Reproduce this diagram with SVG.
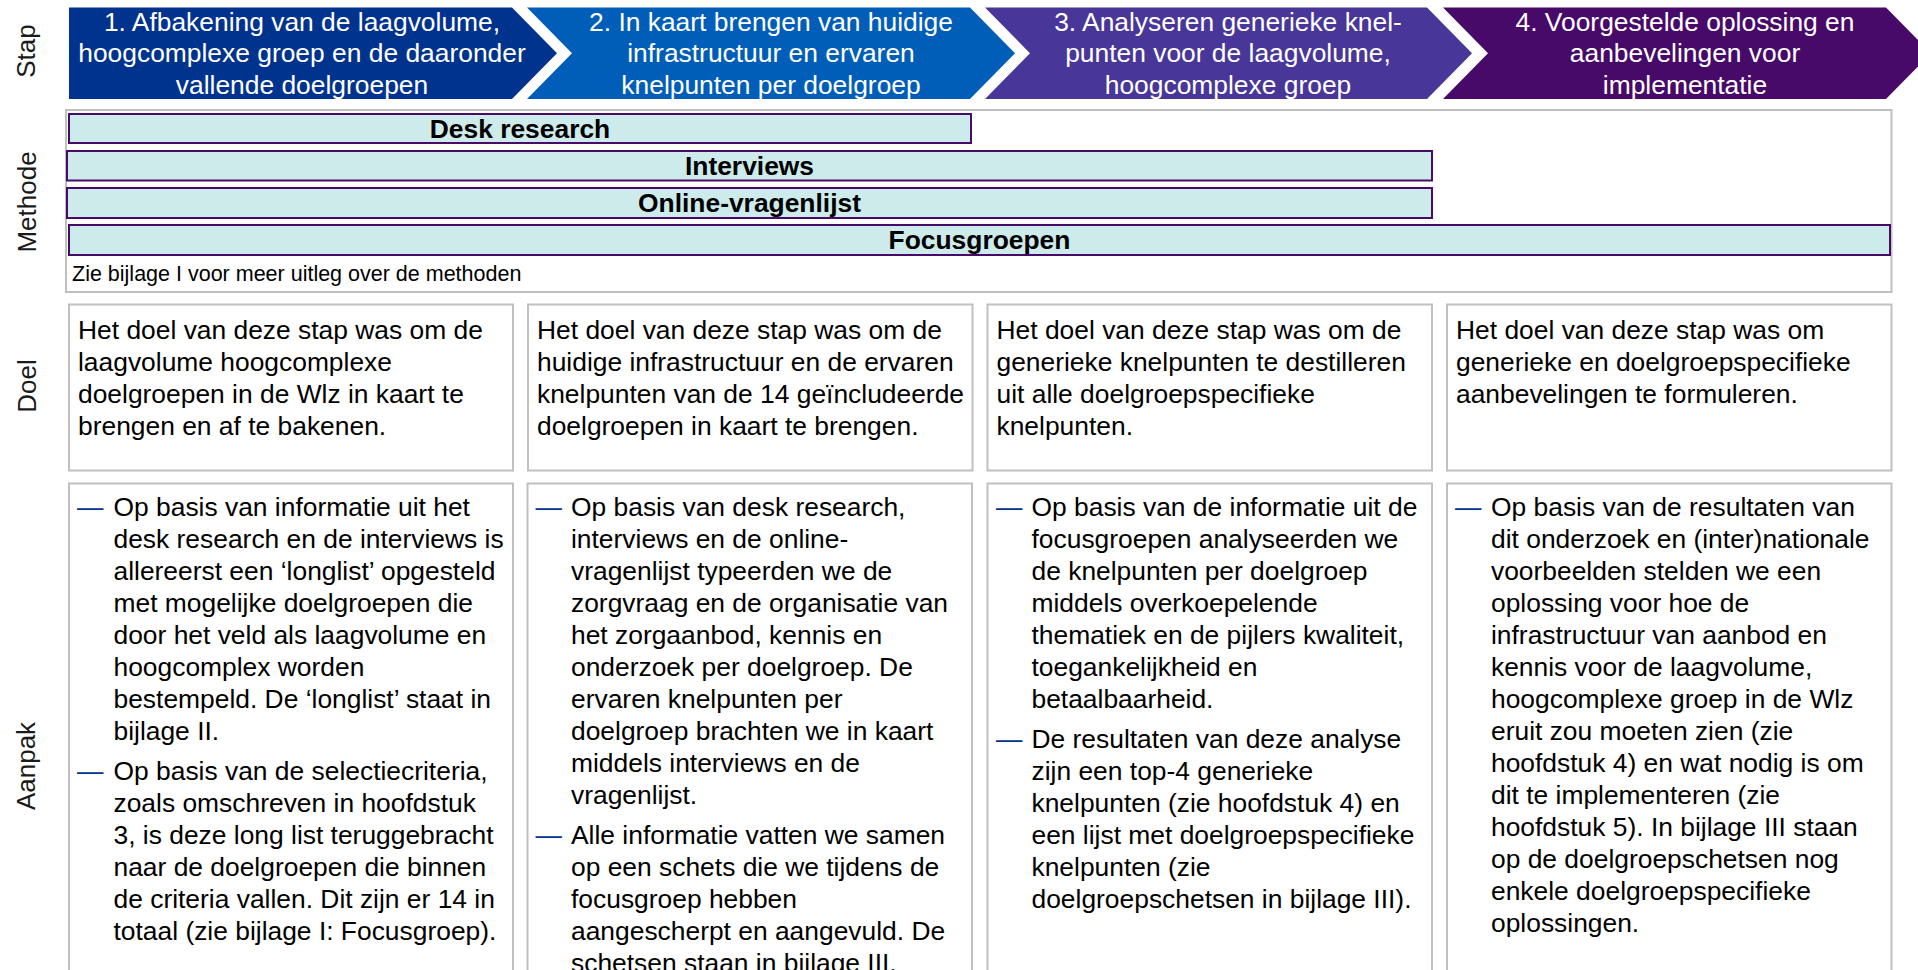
<svg xmlns="http://www.w3.org/2000/svg" width="1918" height="970" viewBox="0 0 1918 970">
<style>
text{font-family:"Liberation Sans",Arial,sans-serif}
.side{font-size:26px;fill:#1a1a1a;text-anchor:middle}
.ct{font-size:26.4px;fill:#ffffff;text-anchor:middle}
.bar{fill:#cdebeb;stroke:#470a68;stroke-width:2}
.bt{font-size:26.4px;font-weight:bold;fill:#000;text-anchor:middle}
.box{fill:#ffffff;stroke:#c0c0c0;stroke-width:2}
.tx{font-size:26.4px;fill:#000}
.dash{font-size:26.4px;fill:#00338d}
.note{font-size:21.5px;fill:#000}
</style>
<rect width="1918" height="970" fill="#ffffff"/>

<g id="row-labels">
<text class="side" transform="translate(35,51) rotate(-90)">Stap</text>
<text class="side" transform="translate(36,202) rotate(-90)">Methode</text>
<text class="side" transform="translate(36,386) rotate(-90)">Doel</text>
<text class="side" transform="translate(35,766) rotate(-90)">Aanpak</text>
</g>

<g id="stap-1">
<polygon points="69,7.5 512,7.5 557,53.25 512,99 69,99" fill="#00338d"/>
<text class="ct" x="302" y="30.5">1. Afbakening van de laagvolume,</text>
<text class="ct" x="302" y="62">hoogcomplexe groep en de daaronder</text>
<text class="ct" x="302" y="93.5">vallende doelgroepen</text>
</g>
<g id="stap-2">
<polygon points="527,7.5 970,7.5 1015,53.25 970,99 527,99 572,53.25" fill="#005eb8"/>
<text class="ct" x="771" y="30.5">2. In kaart brengen van huidige</text>
<text class="ct" x="771" y="62">infrastructuur en ervaren</text>
<text class="ct" x="771" y="93.5">knelpunten per doelgroep</text>
</g>
<g id="stap-3">
<polygon points="985,7.5 1427,7.5 1472,53.25 1427,99 985,99 1030,53.25" fill="#483698"/>
<text class="ct" x="1228" y="30.5">3. Analyseren generieke knel-</text>
<text class="ct" x="1228" y="62">punten voor de laagvolume,</text>
<text class="ct" x="1228" y="93.5">hoogcomplexe groep</text>
</g>
<g id="stap-4">
<polygon points="1443,7.5 1886,7.5 1931,53.25 1886,99 1443,99 1488,53.25" fill="#470a68"/>
<text class="ct" x="1685" y="30.5">4. Voorgestelde oplossing en</text>
<text class="ct" x="1685" y="62">aanbevelingen voor</text>
<text class="ct" x="1685" y="93.5">implementatie</text>
</g>

<g id="methode">
<rect x="66" y="110" width="1825.5" height="182" fill="#ffffff" stroke="#c0c0c0" stroke-width="2"/>
<g id="m-desk"><rect class="bar" x="69" y="114" width="902" height="29"/><text class="bt" x="520" y="137.5">Desk research</text></g>
<g id="m-interviews"><rect class="bar" x="67" y="151" width="1365" height="29.5"/><text class="bt" x="749.5" y="174.5">Interviews</text></g>
<g id="m-online"><rect class="bar" x="67" y="188" width="1365" height="30"/><text class="bt" x="749.5" y="211.5">Online-vragenlijst</text></g>
<g id="m-focus"><rect class="bar" x="69" y="225" width="1821" height="30"/><text class="bt" x="979.5" y="248.5">Focusgroepen</text></g>
<text class="note" x="72" y="281">Zie bijlage I voor meer uitleg over de methoden</text>
</g>

<g id="doel-1">
<rect class="box" x="69" y="304.5" width="444" height="166"/>
<text class="tx" x="78" y="338.5">Het doel van deze stap was om de</text>
<text class="tx" x="78" y="370.5">laagvolume hoogcomplexe</text>
<text class="tx" x="78" y="402.5">doelgroepen in de Wlz in kaart te</text>
<text class="tx" x="78" y="434.5">brengen en af te bakenen.</text>
</g>
<g id="doel-2">
<rect class="box" x="528" y="304.5" width="444.5" height="166"/>
<text class="tx" x="537" y="338.5">Het doel van deze stap was om de</text>
<text class="tx" x="537" y="370.5">huidige infrastructuur en de ervaren</text>
<text class="tx" x="537" y="402.5">knelpunten van de 14 geïncludeerde</text>
<text class="tx" x="537" y="434.5">doelgroepen in kaart te brengen.</text>
</g>
<g id="doel-3">
<rect class="box" x="987.5" y="304.5" width="444.5" height="166"/>
<text class="tx" x="996.5" y="338.5">Het doel van deze stap was om de</text>
<text class="tx" x="996.5" y="370.5">generieke knelpunten te destilleren</text>
<text class="tx" x="996.5" y="402.5">uit alle doelgroepspecifieke</text>
<text class="tx" x="996.5" y="434.5">knelpunten.</text>
</g>
<g id="doel-4">
<rect class="box" x="1447" y="304.5" width="444.5" height="166"/>
<text class="tx" x="1456" y="338.5">Het doel van deze stap was om</text>
<text class="tx" x="1456" y="370.5">generieke en doelgroepspecifieke</text>
<text class="tx" x="1456" y="402.5">aanbevelingen te formuleren.</text>
</g>

<g id="aanpak-1">
<rect class="box" x="69" y="483.5" width="444" height="500"/>
<text class="dash" x="77" y="515.5">—</text>
<text class="tx" x="113.5" y="515.5">Op basis van informatie uit het</text>
<text class="tx" x="113.5" y="547.5">desk research en de interviews is</text>
<text class="tx" x="113.5" y="579.5">allereerst een ‘longlist’ opgesteld</text>
<text class="tx" x="113.5" y="611.5">met mogelijke doelgroepen die</text>
<text class="tx" x="113.5" y="643.5">door het veld als laagvolume en</text>
<text class="tx" x="113.5" y="675.5">hoogcomplex worden</text>
<text class="tx" x="113.5" y="707.5">bestempeld. De ‘longlist’ staat in</text>
<text class="tx" x="113.5" y="739.5">bijlage II.</text>
<text class="dash" x="77" y="780">—</text>
<text class="tx" x="113.5" y="780">Op basis van de selectiecriteria,</text>
<text class="tx" x="113.5" y="812">zoals omschreven in hoofdstuk</text>
<text class="tx" x="113.5" y="844">3, is deze long list teruggebracht</text>
<text class="tx" x="113.5" y="876">naar de doelgroepen die binnen</text>
<text class="tx" x="113.5" y="908">de criteria vallen. Dit zijn er 14 in</text>
<text class="tx" x="113.5" y="940">totaal (zie bijlage I: Focusgroep).</text>
</g>
<g id="aanpak-2">
<rect class="box" x="527.5" y="483.5" width="444.5" height="500"/>
<text class="dash" x="535.5" y="515.5">—</text>
<text class="tx" x="571" y="515.5">Op basis van desk research,</text>
<text class="tx" x="571" y="547.5">interviews en de online-</text>
<text class="tx" x="571" y="579.5">vragenlijst typeerden we de</text>
<text class="tx" x="571" y="611.5">zorgvraag en de organisatie van</text>
<text class="tx" x="571" y="643.5">het zorgaanbod, kennis en</text>
<text class="tx" x="571" y="675.5">onderzoek per doelgroep. De</text>
<text class="tx" x="571" y="707.5">ervaren knelpunten per</text>
<text class="tx" x="571" y="739.5">doelgroep brachten we in kaart</text>
<text class="tx" x="571" y="771.5">middels interviews en de</text>
<text class="tx" x="571" y="803.5">vragenlijst.</text>
<text class="dash" x="535.5" y="844">—</text>
<text class="tx" x="571" y="844">Alle informatie vatten we samen</text>
<text class="tx" x="571" y="876">op een schets die we tijdens de</text>
<text class="tx" x="571" y="908">focusgroep hebben</text>
<text class="tx" x="571" y="940">aangescherpt en aangevuld. De</text>
<text class="tx" x="571" y="972">schetsen staan in bijlage III.</text>
</g>
<g id="aanpak-3">
<rect class="box" x="987.5" y="483.5" width="444.5" height="500"/>
<text class="dash" x="996" y="515.5">—</text>
<text class="tx" x="1031.5" y="515.5">Op basis van de informatie uit de</text>
<text class="tx" x="1031.5" y="547.5">focusgroepen analyseerden we</text>
<text class="tx" x="1031.5" y="579.5">de knelpunten per doelgroep</text>
<text class="tx" x="1031.5" y="611.5">middels overkoepelende</text>
<text class="tx" x="1031.5" y="643.5">thematiek en de pijlers kwaliteit,</text>
<text class="tx" x="1031.5" y="675.5">toegankelijkheid en</text>
<text class="tx" x="1031.5" y="707.5">betaalbaarheid.</text>
<text class="dash" x="996" y="748">—</text>
<text class="tx" x="1031.5" y="748">De resultaten van deze analyse</text>
<text class="tx" x="1031.5" y="780">zijn een top-4 generieke</text>
<text class="tx" x="1031.5" y="812">knelpunten (zie hoofdstuk 4) en</text>
<text class="tx" x="1031.5" y="844">een lijst met doelgroepspecifieke</text>
<text class="tx" x="1031.5" y="876">knelpunten (zie</text>
<text class="tx" x="1031.5" y="908">doelgroepschetsen in bijlage III).</text>
</g>
<g id="aanpak-4">
<rect class="box" x="1447" y="483.5" width="444.5" height="500"/>
<text class="dash" x="1455" y="515.5">—</text>
<text class="tx" x="1491" y="515.5">Op basis van de resultaten van</text>
<text class="tx" x="1491" y="547.5">dit onderzoek en (inter)nationale</text>
<text class="tx" x="1491" y="579.5">voorbeelden stelden we een</text>
<text class="tx" x="1491" y="611.5">oplossing voor hoe de</text>
<text class="tx" x="1491" y="643.5">infrastructuur van aanbod en</text>
<text class="tx" x="1491" y="675.5">kennis voor de laagvolume,</text>
<text class="tx" x="1491" y="707.5">hoogcomplexe groep in de Wlz</text>
<text class="tx" x="1491" y="739.5">eruit zou moeten zien (zie</text>
<text class="tx" x="1491" y="771.5">hoofdstuk 4) en wat nodig is om</text>
<text class="tx" x="1491" y="803.5">dit te implementeren (zie</text>
<text class="tx" x="1491" y="835.5">hoofdstuk 5). In bijlage III staan</text>
<text class="tx" x="1491" y="867.5">op de doelgroepschetsen nog</text>
<text class="tx" x="1491" y="899.5">enkele doelgroepspecifieke</text>
<text class="tx" x="1491" y="931.5">oplossingen.</text>
</g>

<g id="connectors"></g>
</svg>
